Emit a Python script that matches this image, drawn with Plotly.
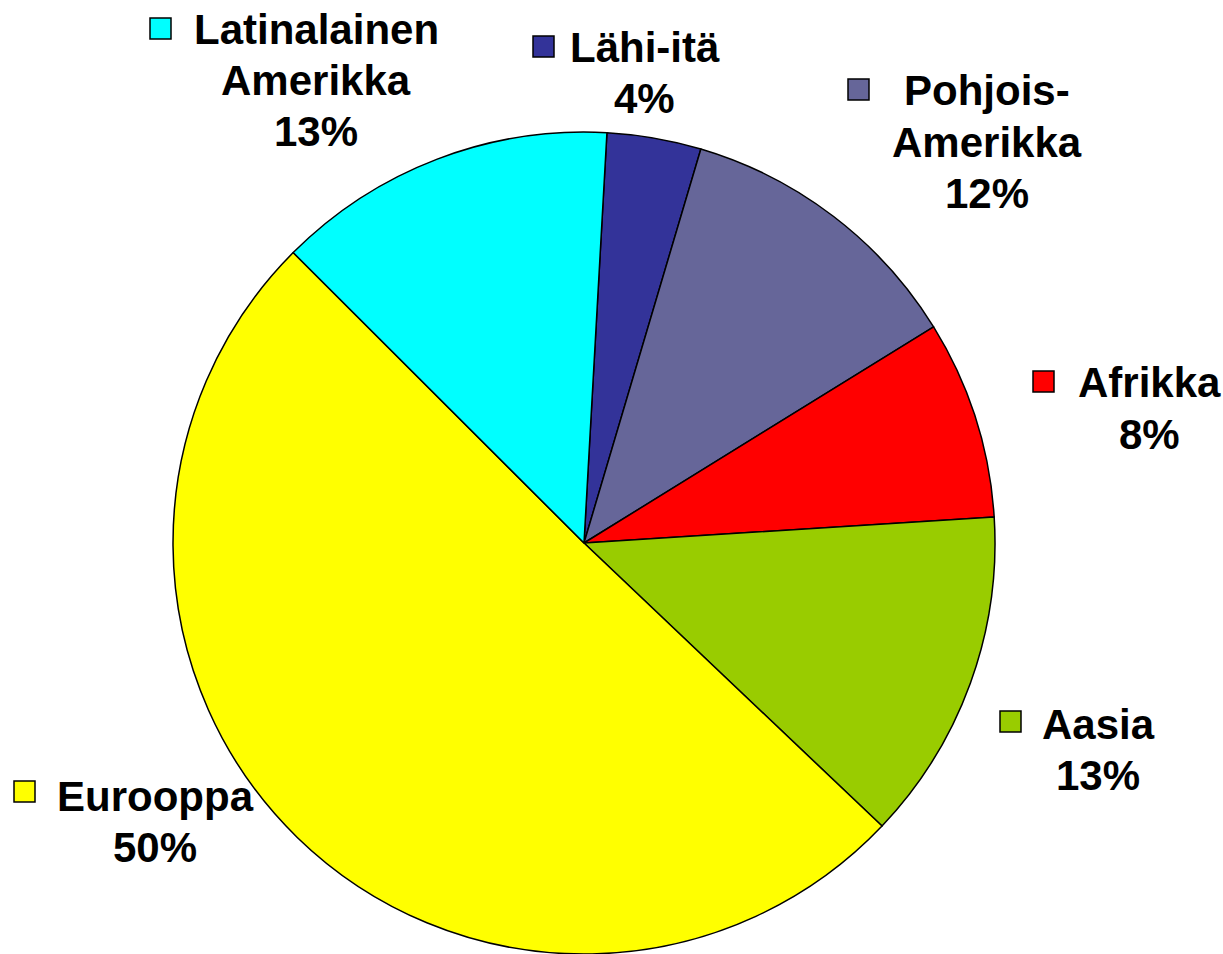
import plotly.graph_objects as go

# Data (clockwise order starting from the top)
regions = ["Lähi-itä", "Pohjois-Amerikka", "Afrikka", "Aasia", "Eurooppa", "Latinalainen Amerikka"]
label_lines = [["Lähi-itä"], ["Pohjois-", "Amerikka"], ["Afrikka"], ["Aasia"], ["Eurooppa"], ["Latinalainen", "Amerikka"]]
shares = [3.7, 11.6, 7.8, 13.1, 50.4, 13.4]
colors = ["#333399", "#666699", "#FF0000", "#99CC00", "#FFFF00", "#00FFFF"]

W, H = 1223, 954
CX, CY, R = 584, 543, 411

# label layout (pixel positions of first-line centre, marker left/top)
label_pos = [
    dict(x=645, y=47, mx=533, my=36),
    dict(x=987, y=91, mx=848, my=79),
    dict(x=1149, y=383, mx=1033, my=371),
    dict(x=1098, y=724, mx=1000, my=711),
    dict(x=155, y=796, mx=14, my=781),
    dict(x=316, y=30, mx=150, my=18),
]
LINE = 51
MS = 21
FONT = dict(family="Liberation Sans, Arial, sans-serif", size=42, color="black", weight="bold")

def px(x):
    return x / W

def py(y):
    return 1 - y / H

fig = go.Figure(go.Pie(
    labels=regions,
    values=shares,
    sort=False,
    direction="clockwise",
    rotation=3.2,
    marker=dict(colors=colors, line=dict(color="black", width=1.5)),
    textinfo="none",
    hoverinfo="label+percent",
    showlegend=False,
    domain=dict(x=[px(CX - R), px(CX + R)], y=[py(CY + R), py(CY - R)]),
))

total = sum(shares)
annotations = []
shapes = []
for lines, v, c, pos in zip(label_lines, shares, colors, label_pos):
    all_lines = lines + [f"{round(v / total * 100)}%"]
    for i, t in enumerate(all_lines):
        annotations.append(dict(
            x=px(pos["x"]), y=py(pos["y"] + i * LINE), xref="paper", yref="paper",
            text=t, showarrow=False, xanchor="center", yanchor="middle", font=FONT,
        ))
    shapes.append(dict(
        type="rect", xref="paper", yref="paper",
        x0=px(pos["mx"]), x1=px(pos["mx"] + MS), y0=py(pos["my"] + MS), y1=py(pos["my"]),
        fillcolor=c, line=dict(color="black", width=1.5),
    ))

fig.update_layout(
    width=W, height=H,
    margin=dict(l=0, r=0, t=0, b=0),
    paper_bgcolor="white", plot_bgcolor="white",
    annotations=annotations, shapes=shapes,
)

fig.write_html(
    "out.html",
    config={"displayModeBar": False},
    post_script="document.body.style.margin='0';document.body.style.overflow='hidden';",
)
